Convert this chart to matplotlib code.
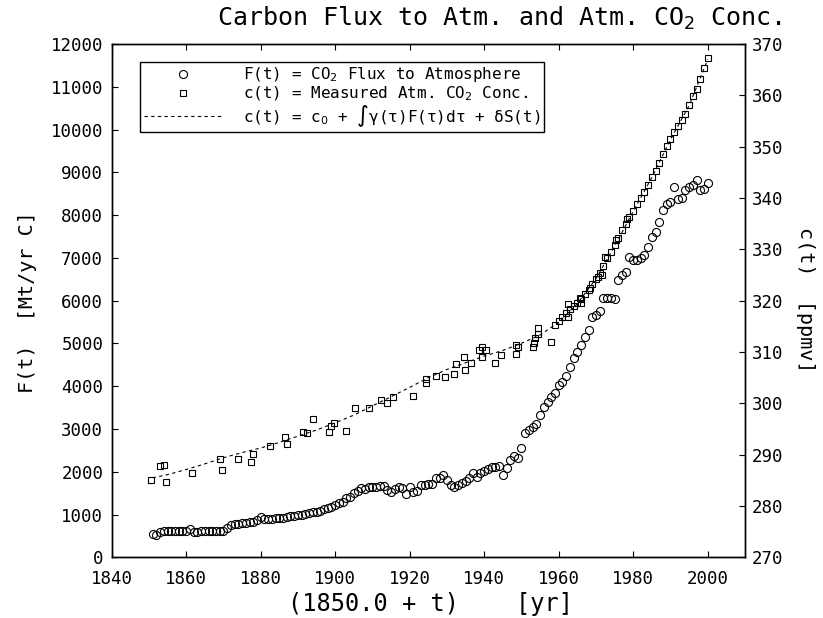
import numpy as np
import matplotlib
matplotlib.use("Agg")
import matplotlib.pyplot as plt
from matplotlib.lines import Line2D
from matplotlib.legend_handler import HandlerLine2D

plt.rcParams['font.family'] = ['DejaVu Sans Mono', 'DejaVu Sans']
plt.rcParams['mathtext.fontset'] = 'dejavusans'

# F(t): CO2 flux to atmosphere [Mt/yr C], one value per year 1851-2000
flux_years = np.arange(1851, 2001)
flux_values = [
    540, 530, 600, 610, 610, 615, 615, 620, 620, 625,
    655, 590, 600, 605, 610, 610, 615, 620, 620, 625,
    680, 760, 790, 790, 800, 810, 815, 830, 870, 935,
    900, 895, 900, 910, 915, 930, 945, 955, 960, 980,
    1000, 1020, 1035, 1050, 1070, 1090, 1120, 1145, 1180, 1220,
    1260, 1300, 1380, 1420, 1500, 1560, 1612, 1600, 1640, 1650,
    1640, 1660, 1660, 1580, 1519, 1600, 1640, 1620, 1480, 1640,
    1520, 1550, 1690, 1700, 1710, 1720, 1846, 1860, 1924, 1807,
    1700, 1650, 1690, 1730, 1790, 1846, 1978, 1884, 1960, 2025,
    2060, 2104, 2120, 2134, 1924, 2080, 2274, 2368, 2314, 2548,
    2898, 2976, 3039, 3116, 3326, 3520, 3637, 3740, 3848, 4028,
    4100, 4250, 4450, 4650, 4800, 4963, 5142, 5313, 5624, 5664,
    5750, 6054, 6070, 6060, 6050, 6482, 6600, 6676, 7027, 6960,
    6950, 7000, 7066, 7250, 7494, 7600, 7845, 8118, 8250, 8313,
    8649, 8368, 8400, 8586, 8650, 8703, 8820, 8586, 8620, 8757,
]

# c(t): measured CO2 (ice core samples)
core_years = [
    1850.5, 1853.0, 1854.0, 1854.6, 1861.5, 1869.0, 1869.5, 1873.9, 1877.5, 1878.0,
    1882.5, 1886.5, 1887.1, 1891.4, 1892.5, 1894.1, 1898.4, 1899.0, 1899.6, 1903.0,
    1905.2, 1909.1, 1912.4, 1913.9, 1915.4, 1920.9, 1924.5, 1924.5, 1927.0, 1929.5,
    1931.9, 1932.3, 1934.5, 1934.9, 1936.5, 1938.6, 1939.5, 1940.4, 1939.5, 1943.0,
    1944.4, 1948.4, 1948.6, 1949.0, 1953.2, 1953.3, 1953.5, 1954.4, 1954.4, 1957.8,
    1962.4, 1962.4, 1965.7, 1966.0, 1968.5, 1970.5, 1971.5, 1972.3, 1975.4, 1978.3,
]
core_ppm = [
    285.1, 287.8, 288.0, 284.7, 286.4, 289.2, 287.1, 289.2, 288.6, 290.1,
    291.7, 293.5, 292.1, 294.4, 294.3, 296.9, 294.5, 295.6, 296.2, 294.7,
    299.0, 299.1, 300.6, 300.0, 301.3, 301.5, 304.7, 304.0, 305.3, 305.2,
    305.8, 307.7, 309.1, 306.5, 307.8, 310.4, 310.9, 310.4, 309.1, 307.8,
    309.5, 311.4, 309.7, 310.9, 310.9, 311.7, 312.7, 314.6, 313.6, 311.9,
    319.3, 316.9, 320.6, 319.5, 322.5, 324.6, 325.0, 328.6, 331.9, 335.9,
]

# c(t): measured CO2 (annual station record 1959-2000)
station_years = np.arange(1959, 2001)
station_ppm = [
    315.2, 316.0, 316.8, 317.6, 318.3, 318.9, 319.5, 320.3, 321.2, 322.1,
    323.2, 324.3, 325.4, 326.8, 328.3, 329.5, 330.8, 332.2, 333.7, 335.0,
    336.3, 337.4, 338.8, 340.0, 341.2, 342.6, 344.0, 345.3, 346.9, 348.5,
    350.1, 351.5, 352.9, 354.0, 355.1, 356.4, 358.1, 359.8, 361.2, 363.2,
    365.3, 367.2,
]

# model curve c(t) = c0 + int gamma F + dS
model_years = [1851, 1855, 1860, 1865, 1870, 1875, 1880, 1885, 1890, 1895,
               1900, 1905, 1910, 1915, 1920, 1925, 1930, 1935, 1940, 1945,
               1950, 1955, 1960, 1965, 1970, 1975, 1980, 1985, 1990, 1995, 2000]
model_ppm = [285.5, 286.1, 287.1, 288.2, 289.4, 290.4, 291.3, 292.4, 293.6, 294.8,
             296.2, 297.7, 299.5, 301.3, 303.1, 305.0, 306.6, 307.9, 309.2, 310.3,
             311.7, 313.3, 315.8, 319.4, 324.3, 330.6, 337.4, 344.0, 351.4, 358.0, 367.0]


class MarkerLeft(HandlerLine2D):
    # put the legend marker at the left end of the handle box
    def get_xdata(self, legend, xdescent, ydescent, width, height, fontsize):
        xdata, _ = super().get_xdata(legend, xdescent, ydescent, width, height, fontsize)
        return xdata, np.array([-xdescent + 0.06 * width])


fig = plt.figure(figsize=(8.23, 6.18), dpi=100)
ax = fig.add_axes([0.1357, 0.0982, 0.7695, 0.8306])
ax2 = ax.twinx()

ax.plot(flux_years, flux_values, 'o', mfc='none', mec='black', ms=5.8, mew=0.8)
ax2.plot(core_years, core_ppm, 's', mfc='none', mec='black', ms=5, mew=0.8)
ax2.plot(station_years, station_ppm, 's', mfc='none', mec='black', ms=5, mew=0.8)
ax2.plot(model_years, model_ppm, color='black', lw=0.8, linestyle=(0, (3, 3)))

ax.set_xlim(1840, 2010)
ax.set_ylim(0, 12000)
ax2.set_ylim(270, 370)
ax.set_xticks(range(1840, 2001, 20))
ax.set_yticks(range(0, 12001, 1000))
ax2.set_yticks(range(270, 371, 10))

ax.tick_params(axis='x', direction='in', top=True, length=4, labelsize=12.5, pad=9)
ax.tick_params(axis='y', direction='in', length=4, labelsize=12.5, pad=6)
ax2.tick_params(axis='y', direction='in', length=4, labelsize=12.5, pad=5)
for a in (ax, ax2):
    for s in a.spines.values():
        s.set_linewidth(1.0)

h1 = Line2D([], [], marker='o', ls='none', mfc='none', mec='black', ms=5.8, mew=0.8)
h2 = Line2D([], [], marker='s', ls='none', mfc='none', mec='black', ms=5, mew=0.8)
h3 = Line2D([], [], color='black', lw=0.8, linestyle=(0, (3, 3)))
labels = ["F(t) = CO$_2$ Flux to Atmosphere",
          "c(t) = Measured Atm. CO$_2$ Conc.",
          "c(t) = c$_0$ + ∫γ(τ)F(τ)dτ + δS(t)"]
leg = ax2.legend([h1, h2, h3], labels, loc='upper left', bbox_to_anchor=(0.0447, 0.965),
                 borderaxespad=0, fontsize=11.5, handlelength=5.0, handletextpad=1.25,
                 borderpad=0.22, labelspacing=0.0, fancybox=False, framealpha=1,
                 edgecolor='black', handler_map={h1: MarkerLeft(), h2: MarkerLeft()})
leg.get_frame().set_linewidth(1.0)

fig.text(0.6075, 0.971, "Carbon Flux to Atm. and Atm. CO$_2$ Conc.", fontsize=18,
         ha='center', va='center')
fig.text(0.034, 0.512, "F(t)  [Mt/yr C]", fontsize=14.5, rotation=90, ha='center', va='center')
fig.text(0.979, 0.515, "c(t)  [ppmv]", fontsize=14.5, rotation=270, ha='center', va='center')
fig.text(0.5225, 0.023, "(1850.0 + t)    [yr]", fontsize=17, ha='center', va='center')

fig.savefig("out.png", dpi=100)
